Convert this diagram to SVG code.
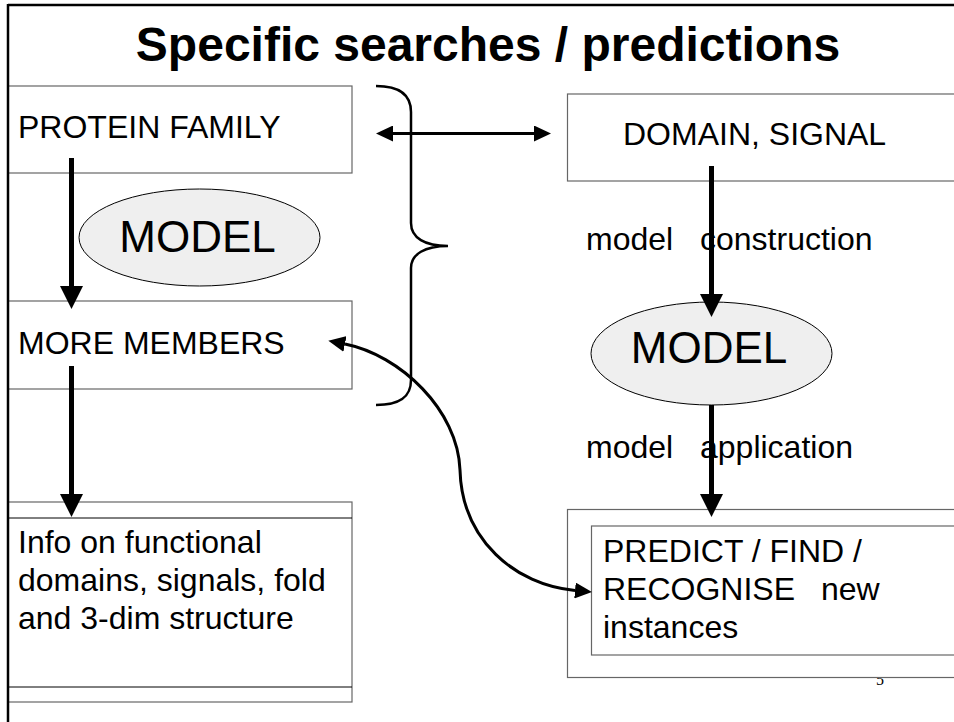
<svg xmlns="http://www.w3.org/2000/svg" width="954" height="722" viewBox="0 0 954 722">
  <style>
    .box { fill: #ffffff; stroke: #666666; stroke-width: 1.2; }
    .txt { font-family: "Liberation Sans", Arial, sans-serif; font-size: 32px; fill: #000000; }
    .big { font-family: "Liberation Sans", Arial, sans-serif; font-size: 44px; fill: #000000; text-anchor: middle; }
    .oval { fill: #efefef; stroke: #000000; stroke-width: 1; }
    .thick { fill: none; stroke: #000000; stroke-width: 5; }
    .thin { fill: none; stroke: #000000; stroke-width: 3; }
  </style>
  <defs>
    <marker id="bigHead" markerUnits="userSpaceOnUse" markerWidth="24" markerHeight="24" refX="0" refY="11.5" orient="auto" viewBox="0 0 24 23">
      <path d="M0,0 L23,11.5 L0,23 z" fill="#000000"/>
    </marker>
    <marker id="smallHead" markerUnits="userSpaceOnUse" markerWidth="18" markerHeight="16" refX="0" refY="8" orient="auto-start-reverse" viewBox="0 0 18 16">
      <path d="M0,0 L17,8 L0,16 z" fill="#000000"/>
    </marker>
  </defs>
  <rect x="0" y="0" width="954" height="722" fill="#ffffff"/>

  <!-- frame -->
  <g id="frame">
    <line x1="8" y1="5" x2="954" y2="5" stroke="#000000" stroke-width="2.5"/>
  </g>

  <g id="title">
    <text x="488" y="61" font-family="Liberation Sans, Arial, sans-serif" font-size="48" font-weight="bold" text-anchor="middle">Specific searches / predictions</text>
  </g>

  <g id="protein-family">
    <rect class="box" x="8" y="86" width="344" height="87"/>
    <text class="txt" x="18" y="138">PROTEIN FAMILY</text>
  </g>

  <g id="model-left">
    <ellipse class="oval" cx="199.5" cy="237.5" rx="120.5" ry="48.5"/>
    <text class="big" x="197.5" y="252">MODEL</text>
  </g>

  <g id="more-members">
    <rect class="box" x="8" y="301" width="344" height="88"/>
    <text class="txt" x="18" y="354">MORE MEMBERS</text>
  </g>

  <g id="info">
    <rect class="box" x="8" y="502" width="344" height="200"/>
    <line x1="8" y1="518" x2="352" y2="518" stroke="#000000" stroke-width="1"/>
    <line x1="8" y1="687" x2="352" y2="687" stroke="#000000" stroke-width="1"/>
    <text class="txt" x="18" y="553">Info on functional</text>
    <text class="txt" x="18" y="591">domains, signals, fold</text>
    <text class="txt" x="18" y="629">and 3-dim structure</text>
  </g>

  <g id="domain-signal">
    <rect class="box" x="567.5" y="94" width="420" height="87"/>
    <text class="txt" x="623" y="145">DOMAIN, SIGNAL</text>
  </g>

  <g id="model-right">
    <ellipse class="oval" cx="711.5" cy="353.5" rx="120.5" ry="51.5"/>
    <text class="big" x="709" y="363">MODEL</text>
  </g>

  <g id="page-number">
    <text x="876" y="685" font-family="Liberation Serif, Times New Roman, serif" font-size="16" fill="#000000">5</text>
  </g>

  <g id="predict">
    <rect class="box" x="567.5" y="509.5" width="420" height="168"/>
    <rect class="box" x="591.5" y="526" width="400" height="129"/>
    <text class="txt" x="603" y="562">PREDICT / FIND /</text>
    <text class="txt" x="603" y="600">RECOGNISE<tspan x="821">new</tspan></text>
    <text class="txt" x="603" y="638">instances</text>
  </g>

  <g id="labels">
    <text class="txt" x="586" y="250">model<tspan x="700">construction</tspan></text>
    <text class="txt" x="586" y="458">model<tspan x="700">application</tspan></text>
  </g>

  <g id="brace">
    <path d="M376,86 C400,86 411,95 411,112 L411,223 C411,238 425,246 448,246 C425,246 411,254 411,268 L411,380 C411,397 400,405 376,405" fill="none" stroke="#000000" stroke-width="2.5"/>
  </g>

  <g id="connectors">
    <line class="thick" x1="71.5" y1="158" x2="71.5" y2="286" marker-end="url(#bigHead)"/>
    <line class="thick" x1="71.5" y1="366" x2="71.5" y2="494" marker-end="url(#bigHead)"/>
    <line class="thick" x1="711.5" y1="166" x2="711.5" y2="294" marker-end="url(#bigHead)"/>
    <line class="thick" x1="711.5" y1="405" x2="711.5" y2="494" marker-end="url(#bigHead)"/>
    <line class="thin" x1="393" y1="133.5" x2="534" y2="133.5" marker-start="url(#smallHead)" marker-end="url(#smallHead)"/>
    <path class="thin" d="M345,344 C400,355 458,410 460,470 C462,540 515,585 575,590.5" marker-start="url(#smallHead)" marker-end="url(#smallHead)"/>
  </g>

  <line x1="8" y1="4" x2="8" y2="722" stroke="#000000" stroke-width="2.5"/>
</svg>
